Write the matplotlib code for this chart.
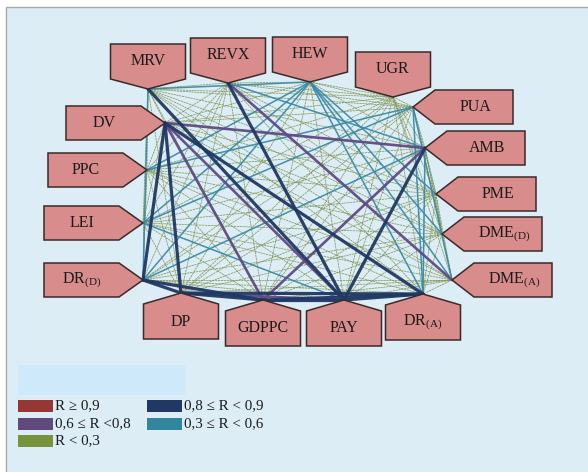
import matplotlib
matplotlib.use('Agg')
import matplotlib.pyplot as plt
from matplotlib.patches import Polygon, Rectangle
from itertools import combinations

plt.rcParams['font.family'] = ['Liberation Serif', 'DejaVu Serif']
plt.rcParams['mathtext.fontset'] = 'custom'
plt.rcParams['mathtext.rm'] = 'Liberation Serif'

# ---------------- data ----------------
nodes = ['MRV', 'REVX', 'HEW', 'UGR', 'PUA', 'AMB', 'PME', 'DME(D)', 'DME(A)',
         'DR(A)', 'PAY', 'GDPPC', 'DP', 'DR(D)', 'LEI', 'PPC', 'DV']
node_text = {
    'DME(D)': r'DME$_{\mathrm{(D)}}$', 'DME(A)': r'DME$_{\mathrm{(A)}}$',
    'DR(A)': r'DR$_{\mathrm{(A)}}$', 'DR(D)': r'DR$_{\mathrm{(D)}}$',
}

# correlations of the pairs drawn with stronger colours
edge_a = ['MRV', 'DV', 'DV', 'DV', 'REVX', 'AMB', 'DR(D)', 'DR(D)', 'DP', 'DP',
          'GDPPC', 'GDPPC', 'PAY',
          'DV', 'DV', 'DV', 'REVX', 'AMB', 'DP',
          'MRV', 'MRV', 'HEW', 'HEW', 'HEW', 'HEW', 'HEW', 'HEW', 'HEW',
          'PUA', 'AMB', 'PUA', 'PUA', 'DR(D)', 'LEI', 'REVX', 'PUA']
edge_b = ['PAY', 'DR(A)', 'DR(D)', 'DP', 'PAY', 'PAY', 'DP', 'GDPPC', 'GDPPC', 'DR(A)',
          'PAY', 'DR(A)', 'DR(A)',
          'AMB', 'GDPPC', 'PAY', 'DME(A)', 'GDPPC', 'PAY',
          'HEW', 'DR(D)', 'PME', 'DME(D)', 'DME(A)', 'DR(A)', 'PPC', 'LEI', 'DR(D)',
          'DR(A)', 'DR(A)', 'DME(A)', 'LEI', 'AMB', 'PAY', 'AMB', 'PPC']
edge_r = [0.84, 0.83, 0.86, 0.85, 0.82, 0.81, 0.85, 0.84, 0.86, 0.83,
          0.87, 0.82, 0.85,
          0.72, 0.68, 0.70, 0.66, 0.70, 0.65,
          0.45, 0.42, 0.40, 0.44, 0.48, 0.41, 0.36, 0.38, 0.39,
          0.47, 0.50, 0.35, 0.40, 0.43, 0.37, 0.33, 0.34]
# all remaining pairs are weak correlations (R < 0,3)
weak_r = 0.15

class_limits = [0.9, 0.8, 0.6, 0.3]
class_labels = ['R \u2265 0,9', '0,8 \u2264 R < 0,9', '0,6 \u2264 R <0,8',
                '0,3 \u2264 R < 0,6', 'R < 0,3']

# ---------------- layout / style ----------------
layout = {  # anchor point (px) and side the label box points from
    'MRV': (148, 89, 'down'), 'REVX': (228, 83, 'down'), 'HEW': (310, 82, 'down'),
    'UGR': (393, 97, 'down'), 'PUA': (413, 107, 'left'), 'AMB': (425, 148, 'left'),
    'PME': (436, 194, 'left'), 'DME(D)': (442, 234, 'left'), 'DME(A)': (452, 280, 'left'),
    'DR(A)': (423, 294, 'up'), 'PAY': (344, 300, 'up'), 'GDPPC': (263, 300, 'up'),
    'DP': (181, 293, 'up'), 'DR(D)': (143, 280, 'right'), 'LEI': (143, 223, 'right'),
    'PPC': (147, 170, 'right'), 'DV': (165, 123, 'right'),
}
class_colors = ['#953735', '#1F3864', '#604A7B', '#31859C', '#77933C']
line_colors = ['#953735', '#1F3864', '#5F4A85', '#3A8AA6', '#7E9150']
class_lw = [2.4, 2.3, 1.9, 1.1, 0.55]
class_z = [6, 5, 4, 3, 2]


def r_class(r):
    for k, lim in enumerate(class_limits):
        if r >= lim:
            return k
    return len(class_limits)


W, H = 588, 472
fig = plt.figure(figsize=(W / 100, H / 100), dpi=100)
ax = fig.add_axes([0, 0, 1, 1])
ax.set_xlim(0, W)
ax.set_ylim(H, 0)
ax.axis('off')
fig.patch.set_facecolor('white')

ax.add_patch(Rectangle((5.5, 7), W + 10, H + 10, facecolor='#DCEDF5',
                       edgecolor='#A9A9A9', lw=1.0, zorder=0))

# edges
strong = {}
for a, b, r in zip(edge_a, edge_b, edge_r):
    strong[frozenset((a, b))] = r
for a, b in combinations(nodes, 2):
    r = strong.get(frozenset((a, b)), weak_r)
    k = r_class(r)
    xa, ya, _ = layout[a]
    xb, yb, _ = layout[b]
    ls = (0, (3, 0.8)) if k == 4 else '-'
    ax.plot([xa, xb], [ya, yb], color=line_colors[k], lw=class_lw[k], ls=ls,
            solid_capstyle='round', zorder=class_z[k], alpha=0.95 if k < 4 else 0.9)

# label boxes
box_fc = '#D98C8C'
box_ec = '#3B2A2A'
fs = 11.5
for n in nodes:
    x, y, d = layout[n]
    if d == 'down':
        pts = [(x, y), (x + 37.5, y - 10), (x + 37.5, y - 45), (x - 37.5, y - 45), (x - 37.5, y - 10)]
        tx, ty = x, y - 28
    elif d == 'up':
        pts = [(x, y), (x + 37.5, y + 11), (x + 37.5, y + 46), (x - 37.5, y + 46), (x - 37.5, y + 11)]
        tx, ty = x, y + 28.5
    elif d == 'left':
        pts = [(x, y), (x + 22, y - 17), (x + 100, y - 17), (x + 100, y + 17), (x + 22, y + 17)]
        tx, ty = x + 62, y
    else:
        pts = [(x, y), (x - 24, y - 17), (x - 99, y - 17), (x - 99, y + 17), (x - 24, y + 17)]
        tx, ty = x - 61, y
    ax.add_patch(Polygon(pts, closed=True, facecolor=box_fc, edgecolor=box_ec,
                         lw=1.1, zorder=10))
    ax.text(tx, ty, node_text.get(n, n), ha='center', va='center', fontsize=fs,
            color='#1a1a1a', zorder=11)

# legend
ax.add_patch(Rectangle((18, 365), 167, 30, facecolor='#CDE9FA', edgecolor='none', zorder=1))
leg_pos = [(18, 406), (147, 406), (18, 423.5), (147, 423.5), (18, 441)]
for (lx, ly), c, lab in zip(leg_pos, class_colors, class_labels):
    ax.add_patch(Rectangle((lx, ly - 6), 35, 12, facecolor=c, edgecolor='none', zorder=2))
    ax.text(lx + 37, ly, lab, ha='left', va='center', fontsize=10.8, color='#1a1a1a', zorder=3)

fig.savefig('out.png', dpi=100)
